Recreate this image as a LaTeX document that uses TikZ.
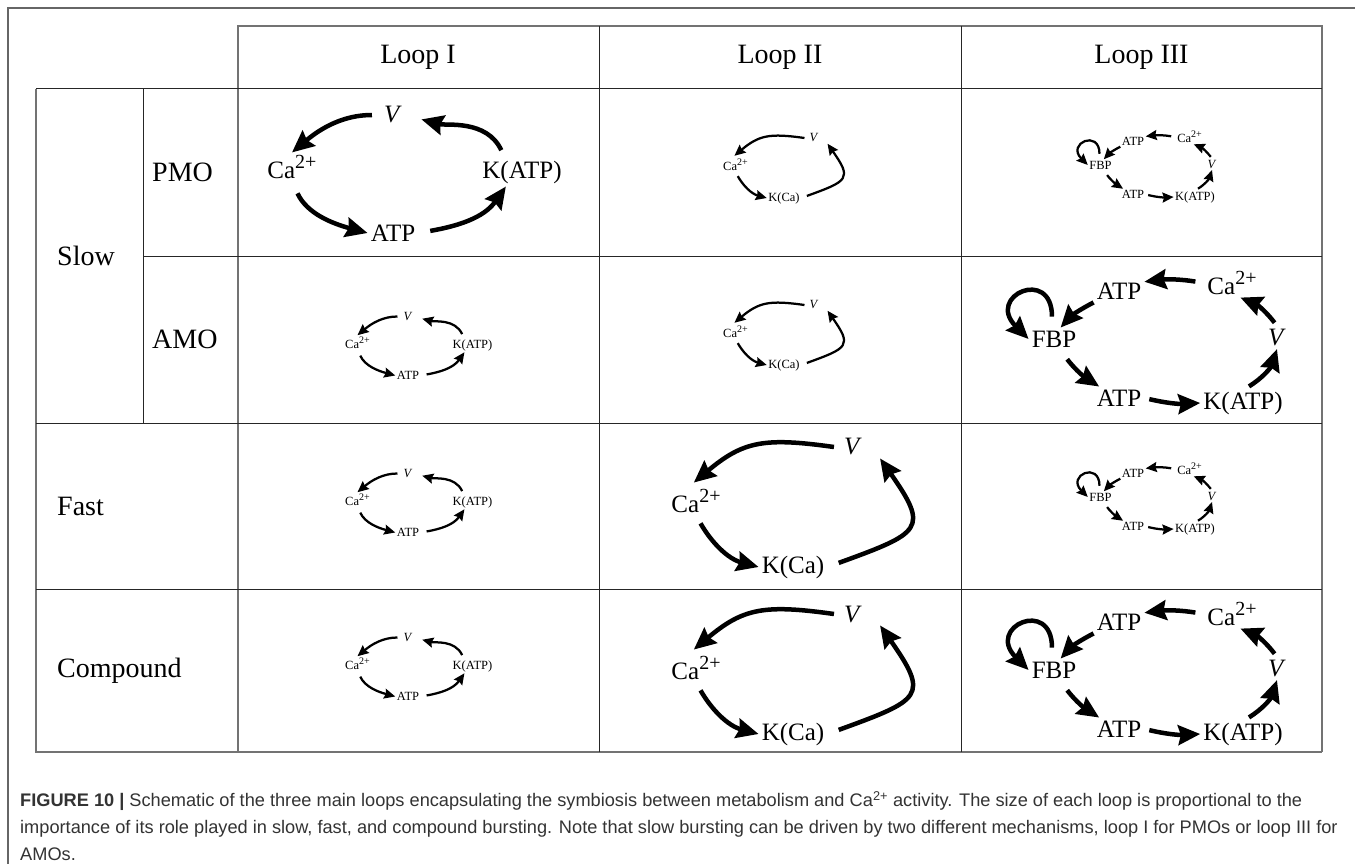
\documentclass[tikz,border=0pt]{standalone}
\usepackage{fontspec}
\setmainfont{Liberation Serif}
\newfontfamily\capfont{Liberation Sans}
\usetikzlibrary{arrows.meta}
\newcommand\loopsc{1}
\newcommand\caion{Ca\raisebox{0.37em}{\scalebox{0.8}{2+}}}

\tikzset{
  lbl/.style={font=\fontsize{25}{30}\selectfont, inner sep=3pt, transform shape},
  arr/.style={line width=4.5pt*\loopsc, -{Stealth[length=0pt 4.9, width=0pt 4.4, inset=0pt 0.6]}},
  big/.style={scale=1, /utils/exec={\def\loopsc{1}}},
  small/.style={scale=0.5, /utils/exec={\def\loopsc{0.5}}},
  hdr/.style={font=\fontsize{28}{34}\selectfont},
  side/.style={font=\fontsize{28}{34}\selectfont, anchor=west, inner sep=0pt},
  grid/.style={line width=1pt, black!85},
  rim/.style={line width=1.6pt, black!55},
  pics/loopone/.style={code={
    \node[lbl] (-V) at (-2,57) {\textit{V}};
    \node[lbl] (-Ca) at (-103,5) {\caion};
    \node[lbl] (-K) at (127,0) {K(ATP)};
    \node[lbl] (-ATP) at (-2,-61) {ATP};
    \draw[arr, shorten <=9pt*\loopsc] (-V.west) to[out=180,in=40] (-Ca.north);
    \draw[arr, shorten <=13pt*\loopsc] (-Ca.south) to[out=-65,in=165] (-ATP.west);
    \draw[arr, shorten <=12pt*\loopsc] (-ATP.east) to[out=10,in=235] (-K.222);
    \draw[arr, shorten <=8pt*\loopsc, shorten >=17pt*\loopsc] (-K.140) to[out=115,in=-15] (-V.east);
  }},
  pics/looptwo/.style={code={
    \node[lbl, inner sep=10pt] (-V) at (68,58) {\textit{V}};
    \node[lbl] (-Ca) at (-89,4) {\caion};
    \node[lbl] (-K) at (8,-62) {K(Ca)};
    \draw[arr, shorten >=6pt*\loopsc] (-V.west) to[out=172,in=40,looseness=1.2] (-Ca.115);
    \draw[arr, shorten <=9pt*\loopsc] (-Ca.south) to[out=-60,in=165] (-K.west);
    \draw[arr, shorten <=12pt*\loopsc, shorten >=14pt*\loopsc] (-K.east) to[out=20,in=-55,looseness=2] (-V.east);
  }},
  pics/loopthree/.style={code={
    \node[lbl] (-FBP) at (-87,0) {FBP};
    \node[lbl] (-ATPt) at (-22,48) {ATP};
    \node[lbl] (-Ca) at (91,56) {\caion};
    \node[lbl] (-V) at (136,1.5) {\textit{V}};
    \node[lbl] (-K) at (102,-64) {K(ATP)};
    \node[lbl] (-ATPb) at (-22,-59) {ATP};
    \draw[arr, shorten <=11pt*\loopsc] (-FBP.100) to[out=90,in=135,looseness=6] (-FBP.west);
    \draw[arr] (-ATPt.south west) to[bend right=10] (-FBP.60);
    \draw[arr, shorten <=9pt*\loopsc] (-Ca.west) to[bend right=8] (-ATPt.20);
    \draw[arr, shorten <=4pt*\loopsc] (-V.north) to[bend right=15] (-Ca.-60);
    \draw[arr, shorten <=4pt*\loopsc] (-K.80) to[bend right=20] (-V.south);
    \draw[arr, shorten <=5pt*\loopsc] (-ATPb.east) to[bend right=8] (-K.west);
    \draw[arr, shorten <=11pt*\loopsc] (-FBP.-60) to[bend right=10] (-ATPb.150);
  }},
}

\begin{document}
\begin{tikzpicture}[x=1pt,y=1pt]
    \useasboundingbox[fill=white] (0,0) rectangle (1355,-864);
    % frame of the figure
    \draw[line width=1.5pt, black!60] (8,-864) -- (8,-8) -- (1355,-8);

    % table
    \draw[rim] (238,-752) -- (238,-26) -- (1322,-26) -- (1322,-752);
    \draw[rim] (36,-89) -- (36,-752) -- (1322,-752);
    \draw[grid] (36,-89) -- (1322,-89);
    \draw[grid] (143,-256) -- (1322,-256);
    \draw[grid] (36,-423) -- (1322,-423);
    \draw[grid] (36,-589) -- (1322,-589);
    \draw[grid] (143,-89) -- (143,-423);
    \draw[grid] (599,-26) -- (599,-752);
    \draw[grid] (961,-26) -- (961,-752);

    \node[hdr] (l1) at (418,-57.5) {Loop I};
    \node[hdr] (l2) at (780,-57.5) {Loop II};
    \node[hdr] (l3) at (1141.5,-57.5) {Loop III};
    \node[side] (slow) at (57,-256) {Slow};
    \node[side] (pmo) at (152,-172.5) {PMO};
    \node[side] (amo) at (152,-339.5) {AMO};
    \node[side] (fast) at (57,-506) {Fast};
    \node[side] (comp) at (57,-670.5) {Compound};

    % the loops, big or small
    \pic[big] (pmoI) at (395,-172) {loopone};
    \pic[small] (amoI) at (409,-345) {loopone};
    \pic[small] (fastI) at (409,-502) {loopone};
    \pic[small] (compI) at (409,-666) {loopone};
    \pic[small] (pmoII) at (780,-167) {looptwo};
    \pic[small] (amoII) at (780,-334) {looptwo};
    \pic[big] (fastII) at (785,-505) {looptwo};
    \pic[big] (compII) at (785,-672) {looptwo};
    \pic[small] (pmoIII) at (1144,-165) {loopthree};
    \pic[big] (amoIII) at (1141,-339) {loopthree};
    \pic[small] (fastIII) at (1144,-497) {loopthree};
    \pic[big] (compIII) at (1141,-670) {loopthree};

    % caption
    \node[anchor=north west, inner sep=0pt, align=left, text=black!80,
          font=\capfont\fontsize{18.2}{24}\selectfont] (cap) at (20,-791)
      {\textbf{FIGURE 10} \textbf{|} Schematic of the three main loops encapsulating the symbiosis between metabolism and Ca\textsuperscript{2+} activity. The size of each loop is proportional to the\\[3pt]
       importance of its role played in slow, fast, and compound bursting. Note that slow bursting can be driven by two different mechanisms, loop I for PMOs or loop III for\\[3pt]
       AMOs.};
\end{tikzpicture}
\end{document}
